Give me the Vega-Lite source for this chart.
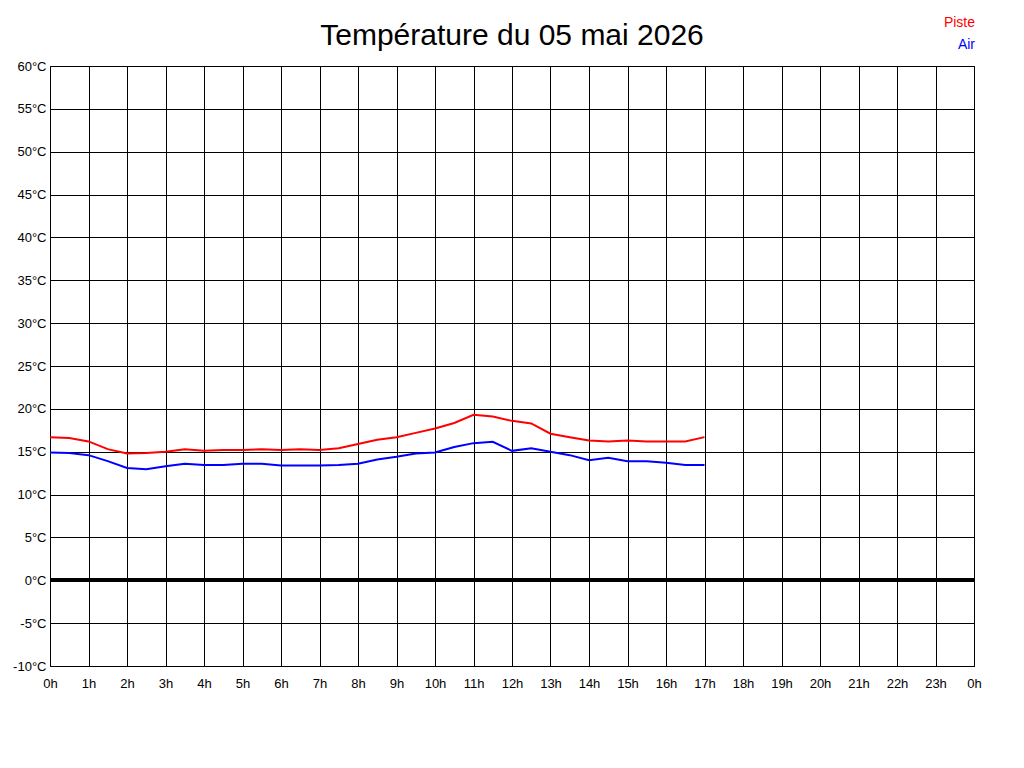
{
  "$schema": "https://vega.github.io/schema/vega-lite/v6.json",
  "width": 924,
  "height": 600,
  "autosize": "none",
  "padding": {"left": 50, "top": 66, "right": 50, "bottom": 102},
  "background": "white",
  "config": {
    "view": {"stroke": "black", "strokeWidth": 1},
    "font": "Liberation Sans"
  },
  "title": {
    "text": "Température du 05 mai 2026",
    "fontSize": 30,
    "fontWeight": "normal",
    "font": "Liberation Sans",
    "color": "black",
    "anchor": "middle",
    "frame": "group",
    "offset": 19,
    "dy": 54
  },
  "data": {
    "values": [
      {"h": 0, "serie": "Piste", "t": 16.7}, {"h": 0.5, "serie": "Piste", "t": 16.6},
      {"h": 1, "serie": "Piste", "t": 16.2}, {"h": 1.5, "serie": "Piste", "t": 15.3},
      {"h": 2, "serie": "Piste", "t": 14.8}, {"h": 2.5, "serie": "Piste", "t": 14.85},
      {"h": 3, "serie": "Piste", "t": 15.0}, {"h": 3.5, "serie": "Piste", "t": 15.3},
      {"h": 4, "serie": "Piste", "t": 15.1}, {"h": 4.5, "serie": "Piste", "t": 15.2},
      {"h": 5, "serie": "Piste", "t": 15.2}, {"h": 5.5, "serie": "Piste", "t": 15.3},
      {"h": 6, "serie": "Piste", "t": 15.2}, {"h": 6.5, "serie": "Piste", "t": 15.3},
      {"h": 7, "serie": "Piste", "t": 15.2}, {"h": 7.5, "serie": "Piste", "t": 15.4},
      {"h": 8, "serie": "Piste", "t": 15.9}, {"h": 8.5, "serie": "Piste", "t": 16.4},
      {"h": 9, "serie": "Piste", "t": 16.7}, {"h": 9.5, "serie": "Piste", "t": 17.2},
      {"h": 10, "serie": "Piste", "t": 17.7}, {"h": 10.5, "serie": "Piste", "t": 18.35},
      {"h": 11, "serie": "Piste", "t": 19.3}, {"h": 11.5, "serie": "Piste", "t": 19.1},
      {"h": 12, "serie": "Piste", "t": 18.6}, {"h": 12.5, "serie": "Piste", "t": 18.3},
      {"h": 13, "serie": "Piste", "t": 17.1}, {"h": 13.5, "serie": "Piste", "t": 16.7},
      {"h": 14, "serie": "Piste", "t": 16.3}, {"h": 14.5, "serie": "Piste", "t": 16.2},
      {"h": 15, "serie": "Piste", "t": 16.3}, {"h": 15.5, "serie": "Piste", "t": 16.2},
      {"h": 16, "serie": "Piste", "t": 16.2}, {"h": 16.5, "serie": "Piste", "t": 16.2},
      {"h": 17, "serie": "Piste", "t": 16.7},
      {"h": 0, "serie": "Air", "t": 14.9}, {"h": 0.5, "serie": "Air", "t": 14.85},
      {"h": 1, "serie": "Air", "t": 14.6}, {"h": 1.5, "serie": "Air", "t": 13.9},
      {"h": 2, "serie": "Air", "t": 13.1}, {"h": 2.5, "serie": "Air", "t": 12.95},
      {"h": 3, "serie": "Air", "t": 13.3}, {"h": 3.5, "serie": "Air", "t": 13.6},
      {"h": 4, "serie": "Air", "t": 13.45}, {"h": 4.5, "serie": "Air", "t": 13.45},
      {"h": 5, "serie": "Air", "t": 13.6}, {"h": 5.5, "serie": "Air", "t": 13.6},
      {"h": 6, "serie": "Air", "t": 13.4}, {"h": 6.5, "serie": "Air", "t": 13.4},
      {"h": 7, "serie": "Air", "t": 13.4}, {"h": 7.5, "serie": "Air", "t": 13.45},
      {"h": 8, "serie": "Air", "t": 13.6}, {"h": 8.5, "serie": "Air", "t": 14.1},
      {"h": 9, "serie": "Air", "t": 14.4}, {"h": 9.5, "serie": "Air", "t": 14.8},
      {"h": 10, "serie": "Air", "t": 14.9}, {"h": 10.5, "serie": "Air", "t": 15.55},
      {"h": 11, "serie": "Air", "t": 16.0}, {"h": 11.5, "serie": "Air", "t": 16.15},
      {"h": 12, "serie": "Air", "t": 15.1}, {"h": 12.5, "serie": "Air", "t": 15.4},
      {"h": 13, "serie": "Air", "t": 15.0}, {"h": 13.5, "serie": "Air", "t": 14.6},
      {"h": 14, "serie": "Air", "t": 14.0}, {"h": 14.5, "serie": "Air", "t": 14.3},
      {"h": 15, "serie": "Air", "t": 13.9}, {"h": 15.5, "serie": "Air", "t": 13.9},
      {"h": 16, "serie": "Air", "t": 13.7}, {"h": 16.5, "serie": "Air", "t": 13.45},
      {"h": 17, "serie": "Air", "t": 13.45}
    ]
  },
  "encoding": {
    "x": {
      "field": "h", "type": "quantitative",
      "scale": {"domain": [0, 24], "nice": false, "zero": false},
      "axis": {
        "title": null,
        "values": [0,1,2,3,4,5,6,7,8,9,10,11,12,13,14,15,16,17,18,19,20,21,22,23,24],
        "labelExpr": "(datum.value % 24) + 'h'",
        "grid": true, "gridColor": "black", "gridOpacity": 1, "gridWidth": 1,
        "ticks": false, "domain": false,
        "labelFontSize": 13, "labelColor": "black", "labelPadding": 11,
        "labelFont": "Liberation Sans", "labelFlush": false
      }
    },
    "y": {
      "field": "t", "type": "quantitative",
      "scale": {"domain": [-10, 60], "nice": false},
      "axis": {
        "title": null,
        "values": [-10,-5,0,5,10,15,20,25,30,35,40,45,50,55,60],
        "labelExpr": "datum.value + '°C'",
        "grid": true, "gridColor": "black", "gridOpacity": 1, "gridWidth": 1,
        "ticks": false, "domain": false,
        "labelFontSize": 13, "labelColor": "black", "labelPadding": 4,
        "labelFont": "Liberation Sans", "labelFlush": false
      }
    }
  },
  "layer": [
    {
      "mark": {"type": "rule", "color": "black", "strokeWidth": 3},
      "encoding": {"y": {"datum": 0}, "x": null}
    },
    {
      "mark": {"type": "line", "strokeWidth": 2},
      "encoding": {
        "color": {
          "field": "serie", "type": "nominal",
          "scale": {"domain": ["Piste", "Air"], "range": ["#ff0000", "#0000ff"]},
          "legend": {
            "title": null,
            "orient": "none",
            "legendX": 907,
            "legendY": -50,
            "symbolSize": 0,
            "symbolStrokeWidth": 0,
            "symbolOpacity": 0,
            "labelFontSize": 14,
            "labelFont": "Liberation Sans",
            "labelAlign": "right",
            "rowPadding": 8,
            "encode": {
              "labels": {"update": {"fill": {"scale": "color", "field": "value"}}}
            }
          }
        }
      }
    }
  ]
}
